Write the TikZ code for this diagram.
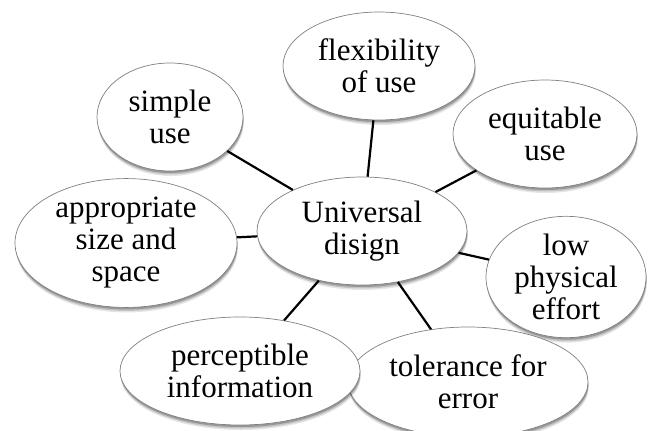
\documentclass[tikz,border=0pt]{standalone}
\usepackage{fontspec}
\setmainfont{Liberation Serif}
\usetikzlibrary{shapes.geometric}
\begin{document}
\begin{tikzpicture}[x=1pt,y=-1pt,
  softshadow/.style={
    preaction={fill=black, opacity=0.10, transform canvas={xshift=0.8pt, yshift=-5pt}},
    preaction={fill=black, opacity=0.15, transform canvas={xshift=0.6pt, yshift=-3.5pt}},
    preaction={fill=black, opacity=0.22, transform canvas={xshift=0.4pt, yshift=-2pt}}},
  bubble/.style={ellipse, draw=black!50, line width=0.7pt, fill=white,
    inner sep=0pt, align=center, softshadow,
    font=\fontsize{31}{32}\selectfont},
  link/.style={line width=2.2pt, black}]
\useasboundingbox (0,0) rectangle (648,431);
\fill[white] (0,0) rectangle (648,431);

% hub
\node[bubble, minimum width=210pt, minimum height=108pt] (hub) at (362,231) {Universal\\disign};

% principles around the hub
\node[bubble, minimum width=146pt, minimum height=108pt] (simple) at (170,117) {simple\\use};
\node[bubble, minimum width=192pt, minimum height=108pt] (flex) at (379,66) {flexibility\\of use};
\node[bubble, minimum width=184pt, minimum height=108pt] (equit) at (545,134) {equitable\\use};
\node[bubble, minimum width=222pt, minimum height=110pt] (size) at (126,243) {appropriate\\size and\\space};
\node[bubble, minimum width=160pt, minimum height=104pt] (effort) at (566,277) {low\\physical\\effort};
\node[bubble, minimum width=240pt, minimum height=110pt] (toler) at (468,382) {tolerance for\\error};
\node[bubble, minimum width=240pt, minimum height=108pt] (percep) at (240,371) {perceptible\\information};

% spokes
\draw[link] (hub) -- (simple);
\draw[link] (hub) -- (flex);
\draw[link] (hub) -- (equit);
\draw[link] (hub) -- (size);
\draw[link] (hub) -- (effort);
\draw[link] (hub) -- (toler);
\draw[link] (hub) -- (percep);
\end{tikzpicture}
\end{document}
